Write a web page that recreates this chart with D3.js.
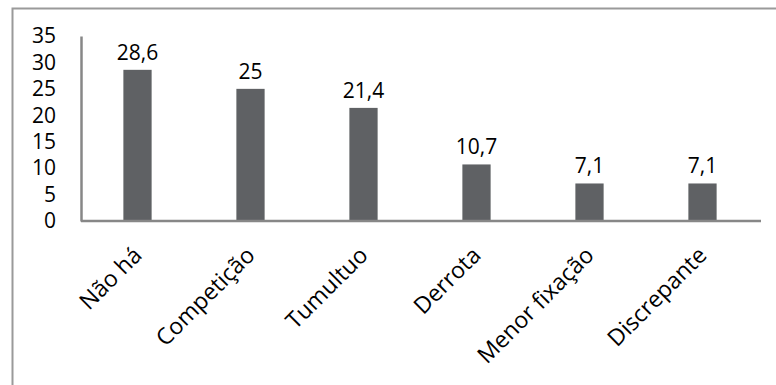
<!DOCTYPE html>
<meta charset="utf-8">
<style>

body {
  margin: 0;
  background: #fff;
}

svg {
  display: block;
  font-family: "Open Sans", sans-serif;
}

.bar {
  fill: #5f6164;
}

.axis path {
  stroke: #878787;
  stroke-width: 2.5px;
}

.axis text {
  font-family: "Open Sans", sans-serif;
  font-size: 21px;
  fill: #000;
}

.x.axis text {
  font-size: 23px;
}

.label {
  font-size: 21px;
  fill: #000;
  text-anchor: middle;
}

</style>
<body>
<script src="https://cdn.jsdelivr.net/npm/d3@7"></script>
<script>

var categories = ["Não há", "Competição", "Tumultuo", "Derrota", "Menor fixação", "Discrepante"],
    values = [28.6, 25, 21.4, 10.7, 7.1, 7.1],
    valueLabels = ["28,6", "25", "21,4", "10,7", "7,1", "7,1"],
    yTicks = [0, 5, 10, 15, 20, 25, 30, 35];

var width = 776,
    height = 385;

var svg = d3.select("body").append("svg")
    .attr("width", width)
    .attr("height", height);

// chart frame, only top and left edges show in the crop
svg.append("path")
    .attr("d", "M12.5,400V8.5H800")
    .attr("fill", "none")
    .attr("stroke", "#9a9a9a")
    .attr("stroke-width", 2);

var x = d3.scaleBand()
    .domain(categories)
    .range([81, 759])
    .paddingInner(0.75)
    .paddingOuter(0.375);

var y = d3.scaleLinear()
    .domain([0, 35])
    .range([221, 36]);

svg.selectAll(".bar")
    .data(values)
  .enter().append("rect")
    .attr("class", "bar")
    .attr("x", function(d, i) { return x(categories[i]); })
    .attr("y", function(d) { return y(d); })
    .attr("width", x.bandwidth())
    .attr("height", function(d) { return y(0) - y(d); });

svg.selectAll(".label")
    .data(values)
  .enter().append("text")
    .attr("class", "label")
    .attr("x", function(d, i) { return x(categories[i]) + x.bandwidth() / 2; })
    .attr("y", function(d) { return y(d) - 10; })
    .text(function(d, i) { return valueLabels[i]; });

var yAxis = svg.append("g")
    .attr("class", "y axis")
    .attr("transform", "translate(81,0)")
    .call(d3.axisLeft(y).tickValues(yTicks).tickSize(0).tickSizeOuter(0).tickPadding(25));

var xAxis = svg.append("g")
    .attr("class", "x axis")
    .attr("transform", "translate(0,221)")
    .call(d3.axisBottom(x).tickSize(0).tickSizeOuter(0));

xAxis.select(".domain").attr("d", "M81,0H761");

xAxis.selectAll(".tick text")
    .attr("text-anchor", "end")
    .attr("x", 0)
    .attr("y", 0)
    .attr("dy", "0.35em")
    .attr("transform", "translate(0,30) rotate(-45)");

</script>
